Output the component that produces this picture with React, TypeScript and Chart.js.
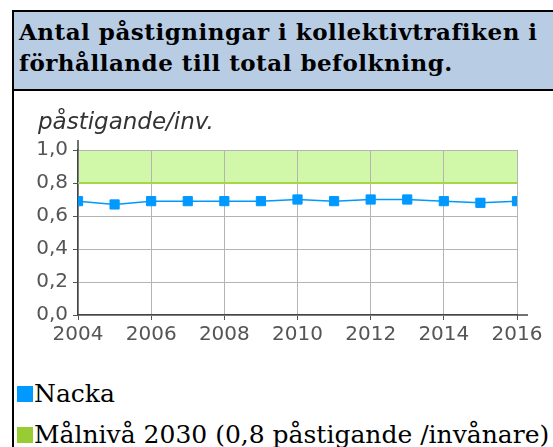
import React, { useEffect, useRef } from 'react';
import { Chart, registerables } from 'chart.js';

Chart.register(...registerables);

const titleLines = ['Antal påstigningar i kollektivtrafiken i', 'förhållande till total befolkning.'];
const yAxisTitle = 'påstigande/inv.';
const years = [2004, 2005, 2006, 2007, 2008, 2009, 2010, 2011, 2012, 2013, 2014, 2015, 2016];
const nackaValues = [0.69, 0.67, 0.69, 0.69, 0.69, 0.69, 0.70, 0.69, 0.70, 0.70, 0.69, 0.68, 0.69];
const targetYears = [2004, 2016];
const targetLow = 0.8;
const targetHigh = 1.0;
const seriesNames = ['Nacka', 'Målnivå 2030 (0,8 påstigande /invånare)'];
const seriesColors = ['#0099ff', '#99cc33'];
const yMin = 0;
const yMax = 1.0;
const yStep = 0.2;
const xStep = 2;

const tickFont = { family: '"DejaVu Sans", Verdana, sans-serif', size: 20 };
const tickColor = '#555555';

export default function App() {
  const canvasRef = useRef<HTMLCanvasElement | null>(null);

  useEffect(() => {
    const canvas = canvasRef.current;
    if (!canvas) return;

    const axisExtend = {
      id: 'axisExtend',
      afterDraw(chart: any) {
        const { ctx, chartArea } = chart;
        ctx.save();
        ctx.strokeStyle = '#444444';
        ctx.lineWidth = 1.5;
        ctx.beginPath();
        ctx.moveTo(chartArea.left, chartArea.top);
        ctx.lineTo(chartArea.left, chartArea.top - 10);
        ctx.moveTo(chartArea.right, chartArea.bottom);
        ctx.lineTo(chartArea.right + 11, chartArea.bottom);
        ctx.stroke();
        ctx.fillStyle = '#333333';
        ctx.font = 'italic 23px "DejaVu Sans", Verdana, sans-serif';
        ctx.textBaseline = 'alphabetic';
        ctx.textAlign = 'left';
        ctx.fillText(yAxisTitle, 24, chartArea.top - 21);
        ctx.restore();
      },
    };

    const chart = new Chart(canvas, {
      type: 'line',
      data: {
        datasets: [
          {
            label: seriesNames[1],
            data: targetYears.map((x) => ({ x, y: targetLow })),
            borderColor: '#a6d64a',
            borderWidth: 2,
            backgroundColor: '#d0f8a8',
            fill: { value: targetHigh },
            pointRadius: 0,
            order: 2,
          },
          {
            label: seriesNames[0],
            data: years.map((x, i) => ({ x, y: nackaValues[i] })),
            borderColor: seriesColors[0],
            borderWidth: 1.5,
            backgroundColor: seriesColors[0],
            pointStyle: 'rect',
            pointRadius: 6.5,
            pointBackgroundColor: seriesColors[0],
            pointBorderColor: seriesColors[0],
            pointBorderWidth: 1,
            fill: false,
            order: 1,
          },
        ],
      },
      options: {
        animation: false,
        responsive: false,
        layout: { padding: { top: 59, right: 36, left: 0, bottom: 0 } },
        plugins: {
          legend: { display: false },
          title: { display: false },
          tooltip: { enabled: false },
          filler: { drawTime: 'beforeDraw' },
        },
        scales: {
          x: {
            type: 'linear',
            min: years[0],
            max: years[years.length - 1],
            ticks: {
              stepSize: xStep,
              autoSkip: false,
              maxRotation: 0,
              padding: 3,
              font: tickFont,
              color: tickColor,
              callback: (v: any) => String(v),
            },
            grid: { color: '#b4b4b4', lineWidth: 1, tickLength: 5, tickColor: '#555555' },
            border: { color: '#444444', width: 1.5 },
            afterFit: (s: any) => {
              s.height = 36;
              s.paddingLeft = 0;
              s.paddingRight = 0;
            },
          },
          y: {
            type: 'linear',
            min: yMin,
            max: yMax,
            ticks: {
              stepSize: yStep,
              padding: 5,
              font: tickFont,
              color: tickColor,
              callback: (v: any) => Number(v).toFixed(1).replace('.', ','),
            },
            grid: { color: '#b4b4b4', lineWidth: 1, tickLength: 5, tickColor: '#555555' },
            border: { color: '#444444', width: 1.5 },
            afterFit: (s: any) => {
              s.width = 64;
              s.paddingTop = 0;
              s.paddingBottom = 0;
            },
          },
        },
      },
      plugins: [axisExtend],
    } as any);

    return () => chart.destroy();
  }, []);

  return (
    <div style={{ position: 'fixed', left: 0, top: 0, width: 553, height: 447, overflow: 'hidden', background: '#fff' }}>
      <div
        style={{
          position: 'absolute',
          left: 12,
          top: 10,
          width: 620,
          height: 500,
          borderLeft: '2px solid #000',
          borderTop: '2px solid #000',
        }}
      >
        <div
          style={{
            height: 73,
            background: '#b8cce4',
            borderBottom: '2px solid #000',
            paddingLeft: 5,
            paddingTop: 4,
            boxSizing: 'content-box',
            fontFamily: '"DejaVu Serif", serif',
            fontWeight: 'bold',
            fontSize: 23,
            letterSpacing: '0.5px',
            lineHeight: '31px',
            color: '#000',
            whiteSpace: 'nowrap',
          }}
        >
          {titleLines.map((t, i) => (
            <div key={i}>{t}</div>
          ))}
        </div>
      </div>
      <canvas
        ref={canvasRef}
        width={539}
        height={260}
        style={{ position: 'absolute', left: 14, top: 91, width: 539, height: 260 }}
      />
      <div
        style={{
          position: 'absolute',
          left: 17,
          top: 373,
          fontFamily: '"DejaVu Serif", serif',
          fontSize: 25,
          lineHeight: '41px',
          color: '#000',
          whiteSpace: 'nowrap',
        }}
      >
        {seriesNames.map((name, i) => (
          <div key={i}>
            <span
              style={{
                display: 'inline-block',
                width: 16,
                height: 16,
                background: seriesColors[i],
                marginRight: 1,
                verticalAlign: 'baseline',
              }}
            />
            {name}
          </div>
        ))}
      </div>
    </div>
  );
}
